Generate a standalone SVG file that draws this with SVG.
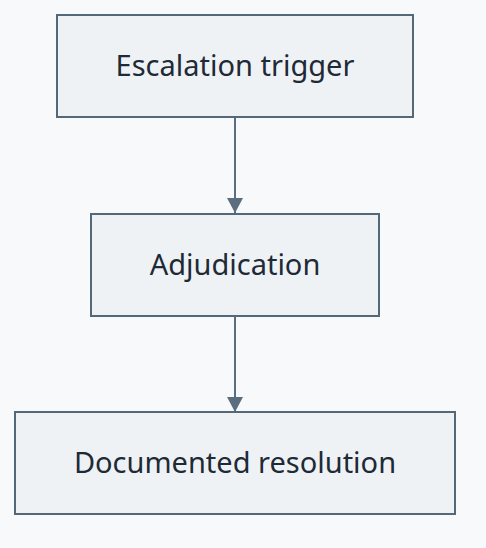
<svg xmlns="http://www.w3.org/2000/svg" width="486" height="548" viewBox="0 0 486 548">
<style>
.box{fill:#eef2f5;stroke:#536878;stroke-width:2}
.lbl{font-family:"Noto Sans","Open Sans",sans-serif;font-size:29px;fill:#1e2a36;text-anchor:middle}
.edge{stroke:#5a6e80;stroke-width:2;fill:none}
</style>
<defs>
<marker id="arr" markerWidth="16" markerHeight="16" refX="15" refY="8" orient="auto" markerUnits="userSpaceOnUse">
<path d="M0,0 L15,8 L0,16 Z" fill="#5a6e80"/>
</marker>
</defs>
<rect width="486" height="548" fill="#f7f9fb"/>
<g id="edges">
<line class="edge" x1="235" y1="117" x2="235" y2="213" marker-end="url(#arr)"/>
<line class="edge" x1="235" y1="316" x2="235" y2="412" marker-end="url(#arr)"/>
</g>
<g id="node-escalation">
<rect class="box" x="57" y="15" width="356" height="102"/>
<text class="lbl" x="235" y="76">Escalation trigger</text>
</g>
<g id="node-adjudication">
<rect class="box" x="91" y="214" width="288" height="102"/>
<text class="lbl" x="235" y="275">Adjudication</text>
</g>
<g id="node-resolution">
<rect class="box" x="15" y="412" width="440" height="102"/>
<text class="lbl" x="235" y="473">Documented resolution</text>
</g>
</svg>
